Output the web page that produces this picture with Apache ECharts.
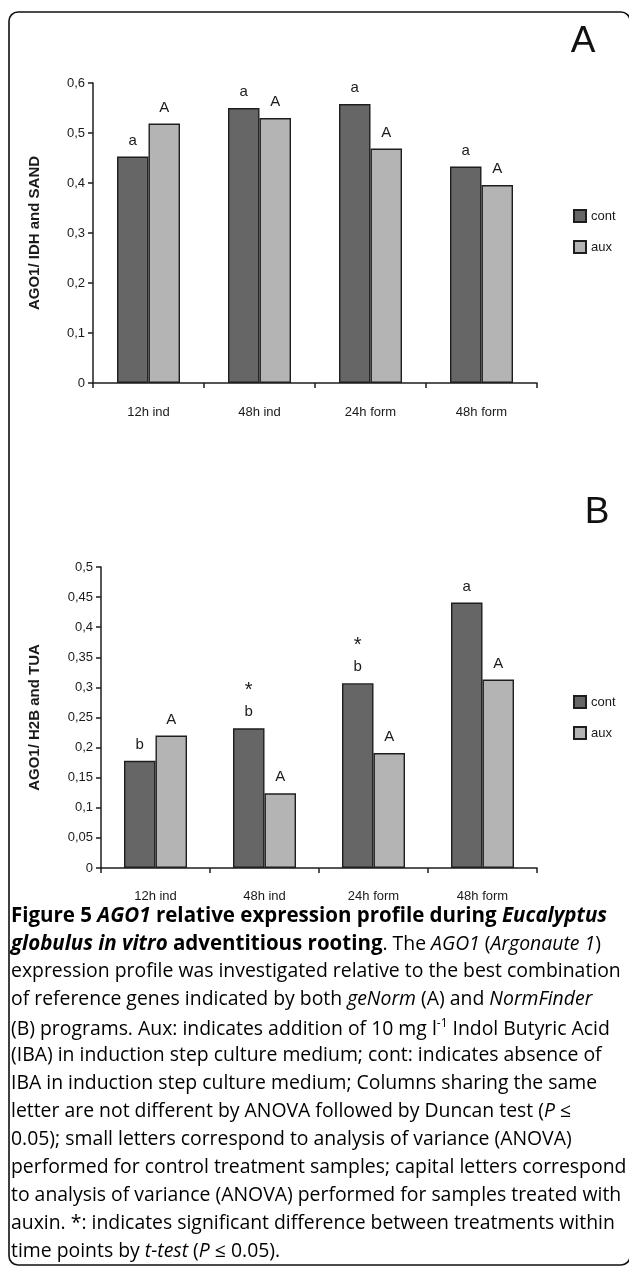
<!DOCTYPE html>
<html>
<head>
<meta charset="utf-8">
<script src="https://cdn.jsdelivr.net/npm/echarts@6/dist/echarts.min.js"></script>
<style>
html,body{margin:0;padding:0;background:#fff;}
#chart{width:629px;height:1268px;}
</style>
</head>
<body>
<div id="chart"></div>
<script>
// ---- data ----
var categories = ['12h ind', '48h ind', '24h form', '48h form'];
var seriesNames = ['cont', 'aux'];
var contA = [0.453, 0.550, 0.558, 0.433];
var auxA  = [0.519, 0.530, 0.469, 0.396];
var contB = [0.178, 0.232, 0.307, 0.441];
var auxB  = [0.220, 0.124, 0.191, 0.313];
var lettersContA = ['a', 'a', 'a', 'a'];
var lettersAuxA  = ['A', 'A', 'A', 'A'];
var lettersContB = ['b', 'b', 'b', 'a'];
var lettersAuxB  = ['A', 'A', 'A', 'A'];
var starsB = ['', '*', '*', ''];
var yNameA = 'AGO1/ IDH and SAND';
var yNameB = 'AGO1/ H2B and TUA';
var panelA = 'A', panelB = 'B';
var captionLines = [
  '{hb|Figure 5 }{hbi|AGO1}{hb| relative expression profile during }{hbi|Eucalyptus}',
  '{hbi|globulus in vitro}{hb| adventitious rooting}{r|. The }{i|AGO1}{r| (}{i|Argonaute 1}{r|)}',
  '{r|expression profile was investigated relative to the best combination}',
  '{r|of reference genes indicated by both }{i|geNorm}{r| (A) and }{i|NormFinder}',
  '{r|(B) programs. Aux: indicates addition of 10 mg l}{sup|-1}{r| Indol Butyric Acid}',
  '{r|(IBA) in induction step culture medium; cont: indicates absence of}',
  '{r|IBA in induction step culture medium; Columns sharing the same}',
  '{r|letter are not different by ANOVA followed by Duncan test (}{i|P}{r| \u2264}',
  '{r|0.05); small letters correspond to analysis of variance (ANOVA)}',
  '{r|performed for control treatment samples; capital letters correspond}',
  '{r|to analysis of variance (ANOVA) performed for samples treated with}',
  '{r|auxin. *: indicates significant difference between treatments within}',
  '{r|time points by }{i|t-test}{r| (}{i|P}{r| \u2264 0.05).}'
];

// ---- styling ----
var FONT = '"Liberation Sans", Arial, sans-serif';
var CAP_FONT = '"Open Sans", "Noto Sans", sans-serif';
var DARK = '#666666', LIGHT = '#b4b4b4', EDGE = '#1e1e1e', INK = '#1a1a1a';

function fmtTick(v) {
  if (v === 0) return '0';
  return String(+v.toFixed(2)).replace('.', ',');
}

// fit caption font sizes to measured widths of full lines
var ctx = document.createElement('canvas').getContext('2d');
ctx.font = '100px "Open Sans"';
var w100 = ctx.measureText('expression profile was investigated relative to the best combination').width;
var capSize = Math.round(611 / w100 * 1000) / 10;
ctx.font = 'bold 100px "Open Sans"';
var wb100 = ctx.measureText('Figure 5 AGO1 relative expression profile during Eucalyptus').width;
var boldSize = Math.min(capSize * 1.12, Math.round(606 / wb100 * 1000) / 10);

var chart = echarts.init(document.getElementById('chart'), null, {renderer: 'canvas'});

function labelFn(letters, stars) {
  return function (p) {
    var s = stars && stars[p.dataIndex] ? '{s|' + stars[p.dataIndex] + '}\n' : '';
    return s + '{l|' + letters[p.dataIndex] + '}';
  };
}

var labelStyle = {
  show: true, position: 'top', distance: 5,
  rich: {
    l: {fontFamily: FONT, fontSize: 15, color: INK, lineHeight: 22},
    s: {fontFamily: FONT, fontSize: 20, color: INK, lineHeight: 22}
  }
};

function xAxisCfg(gi, margin) {
  return {
    type: 'category', gridIndex: gi, data: categories,
    axisLine: {show: true, lineStyle: {color: EDGE, width: 1.5}},
    axisTick: {show: true, alignWithLabel: false, interval: 0, length: 5, lineStyle: {color: EDGE, width: 1.5}},
    axisLabel: {margin: margin, fontFamily: FONT, fontSize: 13, color: INK, interval: 0},
    splitLine: {show: false}
  };
}
function yAxisCfg(gi, max, interval, name, gap) {
  return {
    type: 'value', gridIndex: gi, min: 0, max: max, interval: interval,
    name: name, nameLocation: 'middle', nameRotate: 90, nameGap: gap,
    nameTextStyle: {fontFamily: FONT, fontSize: 15, fontWeight: 'bold', color: INK},
    axisLine: {show: true, lineStyle: {color: EDGE, width: 1.5}},
    axisTick: {show: true, length: 5, inside: false, lineStyle: {color: EDGE, width: 1.5}},
    axisLabel: {margin: 8, fontFamily: FONT, fontSize: 13, color: INK, formatter: fmtTick},
    splitLine: {show: false}
  };
}
function barSeries(name, xi, yi, data, letters, stars, color, bw) {
  return {
    type: 'bar', name: name, xAxisIndex: xi, yAxisIndex: yi, data: data,
    barWidth: bw, barGap: '0%', animation: false,
    itemStyle: {color: color, borderColor: EDGE, borderWidth: 1.4},
    label: Object.assign({}, labelStyle, {formatter: labelFn(letters, stars)})
  };
}

var captionGraphics = captionLines.map(function (line, i) {
  return {
    type: 'text', left: 11, top: 906 + i * 28, silent: true,
    style: {
      text: line,
      rich: {
        r:   {fontFamily: CAP_FONT, fontSize: capSize, color: '#1a1a1a', lineHeight: 22},
        i:   {fontFamily: CAP_FONT, fontSize: capSize, fontStyle: 'italic', color: '#1a1a1a', lineHeight: 22},
        hb:  {fontFamily: CAP_FONT, fontSize: boldSize, fontWeight: 'bold', color: '#1a1a1a', lineHeight: 22},
        hbi: {fontFamily: CAP_FONT, fontSize: boldSize, fontWeight: 'bold', fontStyle: 'italic', color: '#1a1a1a', lineHeight: 22},
        sup: {fontFamily: CAP_FONT, fontSize: Math.round(capSize * 0.6), color: '#1a1a1a', verticalAlign: 'top', lineHeight: 22, padding: [0, 0, 8, 0]}
      }
    }
  };
});

function legendCfg(top) {
  return {
    data: seriesNames, orient: 'vertical', left: 573, top: top, padding: 0,
    itemWidth: 12, itemHeight: 12, itemGap: 17, icon: 'rect', selectedMode: false,
    textStyle: {fontFamily: FONT, fontSize: 13, color: INK}
  };
}

var option = {
  animation: false,
  backgroundColor: '#ffffff',
  textStyle: {fontFamily: FONT},
  grid: [
    {left: 93, top: 83, width: 444, height: 300, containLabel: false, outerBoundsMode: 'none'},
    {left: 101, top: 567, width: 436, height: 301, containLabel: false, outerBoundsMode: 'none'}
  ],
  legend: [legendCfg(209), legendCfg(695)],
  xAxis: [xAxisCfg(0, 23), xAxisCfg(1, 22)],
  yAxis: [yAxisCfg(0, 0.6, 0.1, yNameA, 51), yAxisCfg(1, 0.5, 0.05, yNameB, 59)],
  series: [
    barSeries('cont', 0, 0, contA, lettersContA, null, DARK, 31.5),
    barSeries('aux', 0, 0, auxA, lettersAuxA, null, LIGHT, 31.5),
    barSeries('cont', 1, 1, contB, lettersContB, starsB, DARK, 31.5),
    barSeries('aux', 1, 1, auxB, lettersAuxB, null, LIGHT, 31.5)
  ],
  graphic: [
    {type: 'rect', silent: true, z: 0,
     shape: {x: 9, y: 12, width: 621, height: 1253, r: 9},
     style: {fill: 'none', stroke: '#111', lineWidth: 1.6}},
    {type: 'text', silent: true, x: 583, y: 42,
     style: {text: panelA, fontFamily: FONT, fontSize: 37, fill: '#111', align: 'center', verticalAlign: 'middle'}},
    {type: 'text', silent: true, x: 597, y: 513,
     style: {text: panelB, fontFamily: FONT, fontSize: 37, fill: '#111', align: 'center', verticalAlign: 'middle'}}
  ].concat(captionGraphics)
};
chart.setOption(option);
</script>
</body>
</html>
